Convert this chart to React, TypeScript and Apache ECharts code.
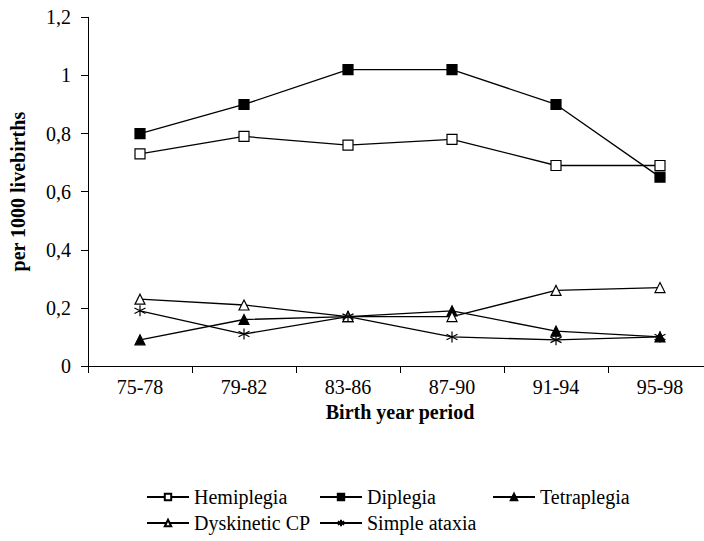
import React, { useEffect, useRef } from "react";
import * as echarts from "echarts";

const categories = ["75-78", "79-82", "83-86", "87-90", "91-94", "95-98"];
const hemiplegia = [0.73, 0.79, 0.76, 0.78, 0.69, 0.69];
const diplegia = [0.8, 0.9, 1.02, 1.02, 0.9, 0.65];
const tetraplegia = [0.09, 0.16, 0.17, 0.19, 0.12, 0.1];
const dyskinetic = [0.23, 0.21, 0.17, 0.17, 0.26, 0.27];
const ataxia = [0.19, 0.11, 0.17, 0.1, 0.09, 0.1];
const seriesNames = ["Hemiplegia", "Diplegia", "Tetraplegia", "Dyskinetic CP", "Simple ataxia"];

const FONT = "'Liberation Serif', 'Times New Roman', serif";
const ASTERISK = "path://M5,0 L5,10 M0.67,2.5 L9.33,7.5 M0.67,7.5 L9.33,2.5";

export default function App() {
  const ref = useRef<HTMLDivElement>(null);
  useEffect(() => {
    if (!ref.current) return;
    const chart = echarts.init(ref.current, undefined, { renderer: "svg" });
    const mk = (name: string, data: number[], symbol: string, fill: string, size: number) => ({
      name,
      type: "line",
      data,
      symbol,
      symbolSize: size,
      showAllSymbol: true,
      lineStyle: { color: "#000", width: 1.3 },
      itemStyle: { color: fill, borderColor: "#000", borderWidth: 1.2 },
      z: 3,
    });
    const legendPos = [
      { left: 146, top: 487 },
      { left: 319, top: 487 },
      { left: 492, top: 487 },
      { left: 146, top: 513 },
      { left: 319, top: 513 },
    ];
    chart.setOption({
      animation: false,
      backgroundColor: "#fff",
      textStyle: { fontFamily: FONT, color: "#000" },
      grid: { left: 86, right: 8, top: 17.3, bottom: 175 },
      legend: seriesNames.map((n, i) => ({
        data: [n],
        left: legendPos[i].left,
        top: legendPos[i].top,
        itemWidth: 42,
        itemHeight: 8,
        padding: 0,
        textStyle: { fontFamily: FONT, fontSize: 20, color: "#000" },
      })),
      xAxis: {
        type: "category",
        data: categories,
        boundaryGap: true,
        axisLine: { lineStyle: { color: "#000", width: 1 } },
        axisTick: { show: true, length: 7, lineStyle: { color: "#000" } },
        axisLabel: { fontFamily: FONT, fontSize: 20, color: "#000", margin: 11 },
        name: "Birth year period",
        nameLocation: "middle",
        nameGap: 35,
        nameTextStyle: { fontFamily: FONT, fontSize: 20, fontWeight: "bold", color: "#000" },
      },
      yAxis: {
        type: "value",
        min: 0,
        max: 1.2,
        interval: 0.2,
        splitLine: { show: false },
        axisLine: { show: true, lineStyle: { color: "#000", width: 1 } },
        axisTick: { show: true, length: 7, lineStyle: { color: "#000" } },
        axisLabel: {
          fontFamily: FONT,
          fontSize: 20,
          color: "#000",
          margin: 17,
          formatter: (v: number) => String(Math.round(v * 10) / 10).replace(".", ","),
        },
        name: "per 1000 livebirths",
        nameLocation: "middle",
        nameGap: 60,
        nameTextStyle: { fontFamily: FONT, fontSize: 20, fontWeight: "bold", color: "#000" },
      },
      series: [
        mk("Hemiplegia", hemiplegia, "rect", "#fff", 10),
        mk("Diplegia", diplegia, "rect", "#000", 10),
        mk("Tetraplegia", tetraplegia, "triangle", "#000", 10),
        mk("Dyskinetic CP", dyskinetic, "triangle", "#fff", 10),
        mk("Simple ataxia", ataxia, ASTERISK, "transparent", 11),
      ],
    });
    return () => chart.dispose();
  }, []);
  return (
    <div style={{ position: "fixed", left: 0, top: 0, width: 704, height: 541, overflow: "hidden", background: "#fff" }}>
      <div ref={ref} style={{ width: 720, height: 541 }} />
    </div>
  );
}
